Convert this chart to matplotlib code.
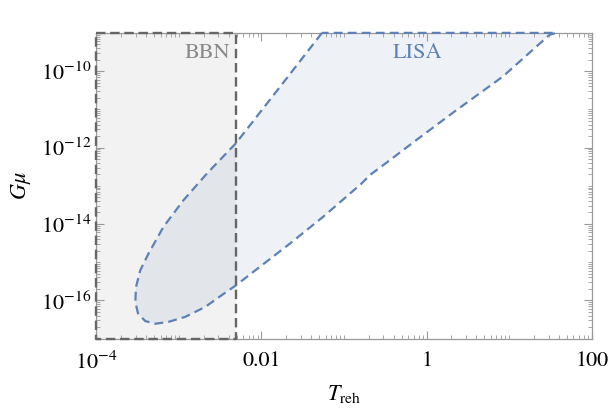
import numpy as np
import matplotlib
matplotlib.use("Agg")
import matplotlib.pyplot as plt
from matplotlib.ticker import LogLocator, FixedLocator, NullFormatter

plt.rcParams['font.family'] = ['STIXGeneral', 'DejaVu Serif']
plt.rcParams['mathtext.fontset'] = 'stix'

# LISA contour, log10 values
lisa_logT = [-1.267, -1.775, -2.311, -2.661, -2.944, -3.186, -3.368,
             -3.468, -3.520, -3.528, -3.496, -3.408, -3.287, -3.126, -2.924,
             -2.682, -2.480, -2.307, -1.654, -1.252, -0.787, -0.687, -0.445,
             -0.122, 0.362, 0.925, 1.490, 1.571]
lisa_logGmu = [-9.0, -10.41, -11.89, -12.68, -13.375, -14.07, -14.77,
               -15.21, -15.65, -16.04, -16.34, -16.54, -16.61, -16.56, -16.43,
               -16.17, -15.86, -15.60, -14.51, -13.81, -12.94, -12.72, -12.33,
               -11.80, -11.02, -10.14, -9.05, -9.0]

T_bbn = 4.9e-3
xlim = (1e-4, 100)
ylim = (1e-17, 1e-9)

blue = '#5E81B5'
gray = '#666666'

fig = plt.figure(figsize=(6.1, 4.11), dpi=100)
ax = fig.add_axes([0.158, 0.176, 0.812, 0.744])
ax.set_xscale('log')
ax.set_yscale('log')
ax.set_xlim(*xlim)
ax.set_ylim(*ylim)

# BBN excluded region
ax.fill_between([xlim[0], T_bbn], ylim[0], ylim[1], color='k', alpha=0.05, lw=0)
ax.plot([xlim[0], T_bbn, T_bbn, xlim[0], xlim[0]],
        [ylim[1], ylim[1], ylim[0], ylim[0], ylim[1]],
        ls=(0, (4, 2)), color=gray, lw=1.7, clip_on=False, zorder=4)

# LISA sensitivity region
lx = 10**np.array(lisa_logT)
ly = 10**np.array(lisa_logGmu)
ax.fill(lx, ly, color=blue, alpha=0.1, lw=0)
ax.plot(np.append(lx, lx[0]), np.append(ly, ly[0]), ls=(0, (4, 2.3)),
        color=blue, lw=1.6, clip_on=False, zorder=3)

ax.text(2.2e-3, 2.95e-10, 'BBN', color='#888888', fontsize=16,
        ha='center', va='center')
ax.text(0.78, 2.95e-10, 'LISA', color=blue, fontsize=16,
        ha='center', va='center')

ax.set_xlabel(r'$T_{\rm reh}$', fontsize=16, labelpad=7)
ax.set_ylabel(r'$G\mu$', fontsize=16, labelpad=6)

# ticks, Mathematica style
ax.xaxis.set_major_locator(FixedLocator([1e-4, 1e-2, 1, 1e2]))
ax.set_xticklabels([r'$10^{-4}$', '0.01', '1', '100'])
ax.xaxis.set_minor_locator(LogLocator(base=10, subs=np.arange(1, 10), numticks=30))
ax.xaxis.set_minor_formatter(NullFormatter())
ax.yaxis.set_major_locator(FixedLocator([1e-16, 1e-14, 1e-12, 1e-10]))
ax.set_yticklabels([r'$10^{-16}$', r'$10^{-14}$', r'$10^{-12}$', r'$10^{-10}$'])
ax.yaxis.set_minor_locator(LogLocator(base=10, subs=np.arange(1, 10), numticks=30))
ax.yaxis.set_minor_formatter(NullFormatter())
ax.tick_params(which='both', direction='in', top=True, right=True,
               color='#999999', labelsize=16)
ax.tick_params(axis='x', which='major', pad=9)
ax.tick_params(which='major', length=6, width=0.8)
ax.tick_params(which='minor', length=3, width=0.6)
for s in ax.spines.values():
    s.set_color('#999999')
    s.set_linewidth(0.9)

fig.savefig('out.png', dpi=100)
